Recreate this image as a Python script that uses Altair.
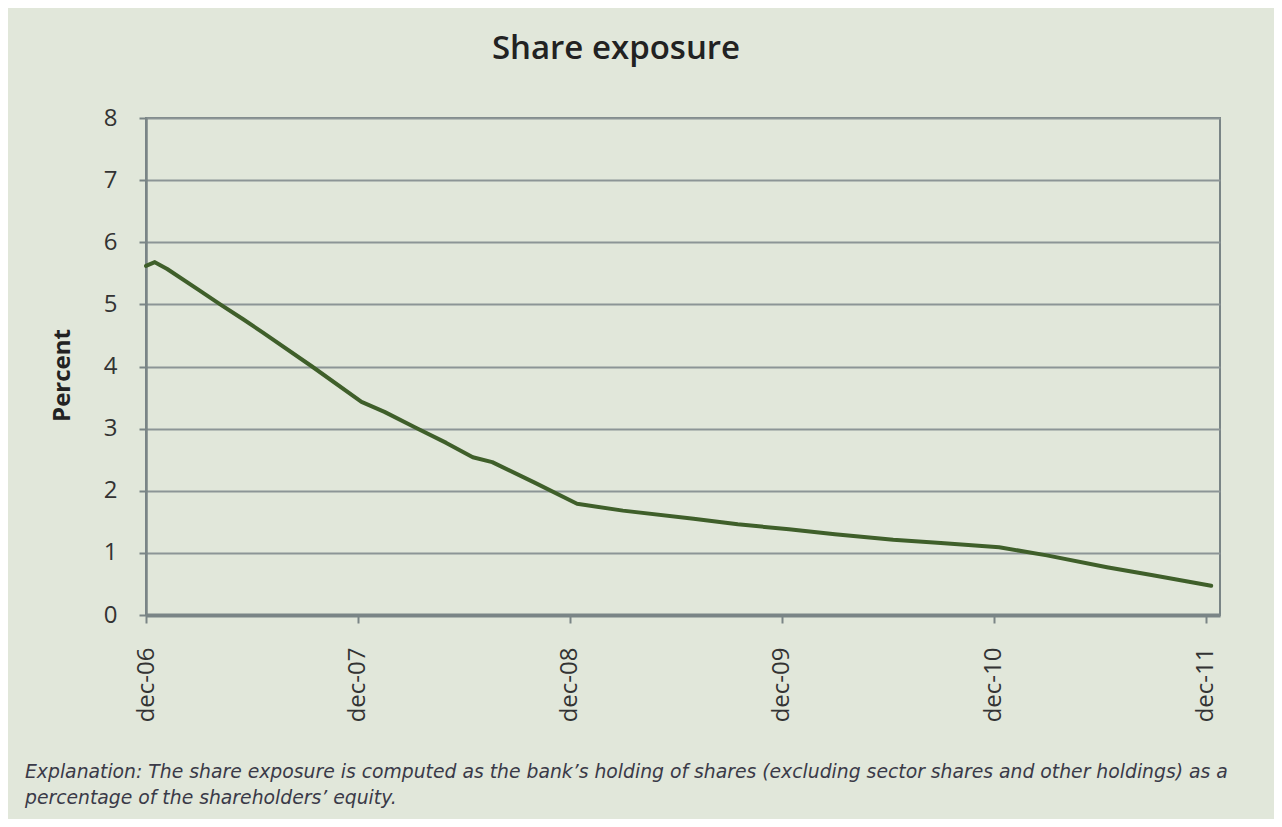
import altair as alt
import pandas as pd

# ---- data ----
months = [0, 0.5, 1.2, 3, 4.2, 5.5, 6.6, 9.4, 12.2, 13.5, 15.3, 17, 18.5, 19.6, 22, 24.4,
          27, 31, 33.5, 36.4, 39, 42.3, 45, 48.3, 51, 54.4, 57, 60.3]
values = [5.62, 5.68, 5.57, 5.23, 5.00, 4.76, 4.55, 4.00, 3.43, 3.27, 3.01, 2.77, 2.54, 2.46,
          2.13, 1.79, 1.68, 1.55, 1.46, 1.38, 1.30, 1.21, 1.16, 1.09, 0.96, 0.77, 0.64, 0.47]
tick_months = [0, 12, 24, 36, 48, 60]
tick_labels = ["dec-06", "dec-07", "dec-08", "dec-09", "dec-10", "dec-11"]
title_text = "Share exposure"
y_title = "Percent"
caption_lines = [
    "Explanation: The share exposure is computed as the bank\u2019s holding of shares (excluding sector shares and other holdings) as a",
    "percentage of the shareholders\u2019 equity.",
]

df = pd.DataFrame({"month": months, "value": values})

label_map = "{" + ",".join(f"'{m}':'{l}'" for m, l in zip(tick_months, tick_labels)) + "}"

W, H = 1074, 497
BG = "#e1e7da"
GRID = "#8c9596"
AXIS = "#7a8586"
TXT = "#333333"

line = alt.Chart(df).mark_line(color="#3f5f2a", strokeWidth=4, strokeJoin="round", strokeCap="round").encode(
    x=alt.X("month:Q",
            scale=alt.Scale(domain=[0, 60.8], nice=False, zero=False),
            axis=alt.Axis(values=tick_months, labelExpr=f"{label_map}[datum.value]",
                          labelAngle=-90, labelFontSize=24, labelFont="Open Sans", labelColor=TXT,
                          labelPadding=24, tickSize=8, tickWidth=2, tickColor=AXIS,
                          domainColor=AXIS, domainWidth=4, grid=False, title=None,
                          labelOverlap=False, labelFlush=False)),
    y=alt.Y("value:Q",
            scale=alt.Scale(domain=[0, 8], nice=False),
            axis=alt.Axis(values=list(range(0, 9)), labelFontSize=24, labelFont="Open Sans",
                          labelColor=TXT, labelPadding=22, tickSize=7, tickWidth=2, tickColor=AXIS,
                          domainColor=AXIS, domainWidth=2.5, grid=True, gridColor=GRID, gridWidth=2,
                          title=y_title, titleFont="Open Sans", titleFontSize=24, titleFontWeight="bold",
                          titleColor="#222222", titleX=-72, titleY=257, titleAngle=-90,
                          titleBaseline="bottom", titleAlign="center")),
)

title = alt.Chart(pd.DataFrame({"t": [title_text]})).mark_text(
    align="center", baseline="alphabetic", font="Open Sans", fontSize=33, fontWeight=600,
    color="#222222"
).encode(text="t:N", x=alt.value(470), y=alt.value(-59))

caption = alt.Chart(pd.DataFrame({"t": ["\n".join(caption_lines)]})).mark_text(
    align="left", baseline="alphabetic", font="DejaVu Sans", fontStyle="italic",
    fontSize=18.8, lineHeight=26, color="#3a3a48", lineBreak="\n"
).encode(text="t:N", x=alt.value(-121), y=alt.value(660))

chart = alt.layer(line, title, caption).properties(
    width=W, height=H,
    autosize=alt.AutoSizeParams(type="none"),
    padding={"left": 138, "top": 110, "right": 54, "bottom": 204},
    background=BG,
).configure_view(stroke=AXIS, strokeWidth=2)

chart.save("out.html", embed_options={"renderer": "svg", "actions": False})
